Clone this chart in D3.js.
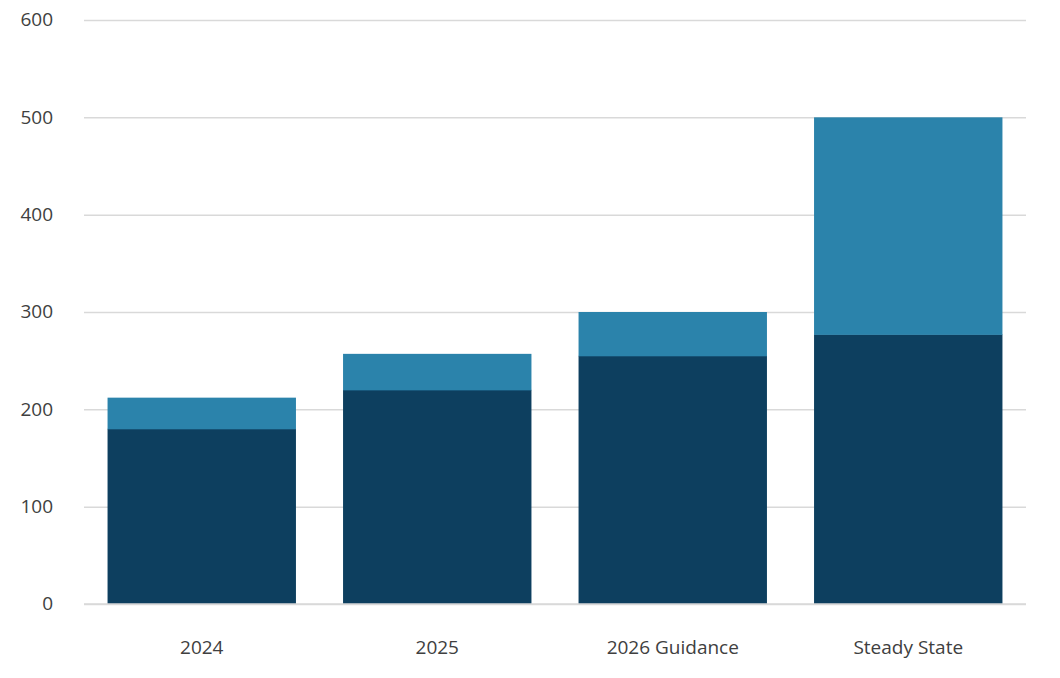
<!DOCTYPE html>
<html><head><meta charset="utf-8">
<script src="https://cdn.jsdelivr.net/npm/d3@7"></script>
<style>
body{margin:0;background:#fff;}
text{font-family:"Open Sans",Lato,sans-serif;}
</style></head>
<body><svg id="c" width="1060" height="678"></svg>
<script>
const categories = ["2024","2025","2026 Guidance","Steady State"];
const baseValues = [180, 220, 255, 277];
const topValues = [32, 37, 45, 223];
const yTicks = [0,100,200,300,400,500,600];
const colors = {base:"#0d3f5f", top:"#2b83ab"};

const svg = d3.select("#c");
const x = d3.scaleBand().domain(categories).range([84,1026]).paddingInner(0.2).paddingOuter(0.1);
const y = d3.scaleLinear().domain([0,600]).range([604,20]);

const yAxis = svg.append("g").attr("transform","translate(84,0)")
  .call(d3.axisLeft(y).tickValues(yTicks).tickSize(-942).tickFormat(d3.format("d")));
yAxis.select(".domain").remove();
yAxis.selectAll("line").attr("stroke","#d9d9d9").attr("stroke-width",1.5);
yAxis.selectAll("text").attr("x",-31).attr("dy","0.3em").attr("fill","#404040").style("font-size","19px").attr("text-anchor","end");

const data = categories.map((c,i)=>({c, b:baseValues[i], t:topValues[i]}));
svg.append("g").selectAll("rect.b").data(data).join("rect")
  .attr("x",d=>x(d.c)).attr("width",x.bandwidth())
  .attr("y",d=>y(d.b)).attr("height",d=>y(0)-y(d.b)).attr("fill",colors.base);
svg.append("g").selectAll("rect.t").data(data).join("rect")
  .attr("x",d=>x(d.c)).attr("width",x.bandwidth())
  .attr("y",d=>y(d.b+d.t)).attr("height",d=>y(d.b)-y(d.b+d.t)+0.5).attr("fill",colors.top);

svg.append("line").attr("x1",84).attr("x2",1026).attr("y1",y(0)).attr("y2",y(0)).attr("stroke","#d9d9d9").attr("stroke-width",1.5);

const xAxis = svg.append("g").attr("transform",`translate(0,${y(0)})`).call(d3.axisBottom(x).tickSize(0));
xAxis.select(".domain").remove();
xAxis.selectAll("text").attr("dy",0).attr("y",50).attr("fill","#404040").style("font-size","19px");
</script></body></html>
